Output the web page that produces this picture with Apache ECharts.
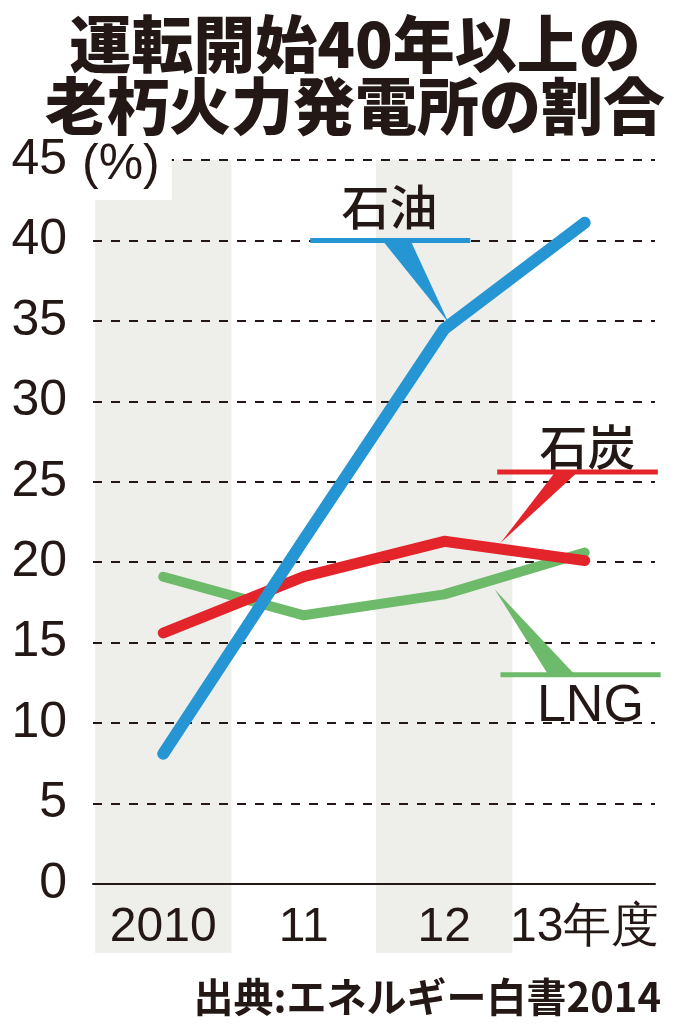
<!DOCTYPE html>
<html>
<head>
<meta charset="utf-8">
<style>
  html, body { margin: 0; padding: 0; background: #fff; }
  #main { width: 686px; height: 1024px; }
</style>
<script src="https://cdn.jsdelivr.net/npm/echarts@6/dist/echarts.min.js"></script>
</head>
<body>
<div id="main"></div>
<script>
// 年度
var categories = ['2010', '11', '12', '13年度'];
// 割合(%)
var oilData = [8.1, 21.4, 34.5, 41.1];
var coalData = [15.6, 19.1, 21.3, 20.1];
var lngData = [19.1, 16.7, 18.0, 20.6];
var yTicks = [0, 5, 10, 15, 20, 25, 30, 35, 40, 45];

var numFont = '"Liberation Sans Narrow", "Liberation Sans", Arial, sans-serif';
var jpFont = '"Noto Sans CJK JP", sans-serif';
var ink = '#231815';

var myChart = echarts.init(document.getElementById('main'));

var option = {
    backgroundColor: '#fff',
    animation: false,
    title: [
        {
            text: '運転開始40年以上の\n老朽火力発電所の割合',
            left: 350,
            top: 8,
            textAlign: 'center',
            textStyle: {
                fontFamily: jpFont,
                fontWeight: 900,
                fontSize: 62,
                lineHeight: 62,
                color: ink
            }
        },
        {
            text: '出典:エネルギー白書2014',
            right: 20,
            bottom: 2,
            textStyle: {
                fontFamily: jpFont,
                fontWeight: 'bold',
                fontSize: 40,
                color: ink
            }
        }
    ],
    grid: {
        left: 93,
        right: 31,
        top: 160,
        bottom: 140
    },
    xAxis: {
        type: 'category',
        data: categories,
        boundaryGap: true,
        axisLine: { lineStyle: { color: ink, width: 2 } },
        axisTick: { show: false },
        axisLabel: {
            interval: 0,
            margin: 20,
            fontFamily: numFont,
            fontSize: 48,
            color: ink
        },
        splitLine: { show: false }
    },
    yAxis: {
        type: 'value',
        min: yTicks[0],
        max: yTicks[yTicks.length - 1],
        interval: 5,
        axisLine: { show: false },
        axisTick: { show: false },
        axisLabel: {
            margin: 26,
            fontFamily: numFont,
            fontSize: 50,
            color: ink
        },
        splitLine: {
            lineStyle: { color: ink, width: 2, type: [9, 9] }
        }
    },
    series: [
        {
            name: 'LNG',
            type: 'line',
            data: lngData,
            symbol: 'none',
            z: 3,
            lineStyle: { color: '#6dbb6a', width: 10, cap: 'round', join: 'round' }
        },
        {
            name: '石炭',
            type: 'line',
            data: coalData,
            symbol: 'none',
            z: 4,
            lineStyle: { color: '#e3242b', width: 11, cap: 'round', join: 'round' }
        },
        {
            name: '石油',
            type: 'line',
            data: oilData,
            symbol: 'none',
            z: 5,
            lineStyle: { color: '#2595d3', width: 12, cap: 'round', join: 'round' }
        }
    ]
};

myChart.setOption(option);

// 背景の帯・凡例の引き出し線（データ座標から画素へ変換）
function px(xi, yv) {
    var a = myChart.convertToPixel({ xAxisIndex: 0 }, categories[0]);
    var b = myChart.convertToPixel({ xAxisIndex: 0 }, categories[1]);
    var y = myChart.convertToPixel({ yAxisIndex: 0 }, yv);
    return [a + (b - a) * xi, y];
}

var step = px(1, 0)[0] - px(0, 0)[0];
var y0 = px(0, 0)[1];
var yTop = px(0, 45)[1];

function band(xi) {
    var c = px(xi, 0)[0];
    return {
        type: 'rect',
        z: -10,
        shape: { x: c - step * 0.485, y: yTop, width: step * 0.97, height: y0 + 69 - yTop },
        style: { fill: '#eeeeea' }
    };
}

function callout(color, lineFrom, lineTo, yv, base1, base2, tip, labelPos, label) {
    var p1 = px(lineFrom, yv), p2 = px(lineTo, yv);
    var b1 = px(base1, yv), b2 = px(base2, yv), t = px(tip[0], tip[1]);
    var lp = px(labelPos[0], labelPos[1]);
    return [
        {
            type: 'line', z: 20,
            shape: { x1: p1[0], y1: p1[1], x2: p2[0], y2: p2[1] },
            style: { stroke: color, lineWidth: 5 }
        },
        {
            type: 'polygon', z: 20,
            shape: { points: [b1, b2, t] },
            style: { fill: color }
        },
        {
            type: 'text', z: 21,
            x: lp[0], y: lp[1],
            style: {
                text: label,
                fontFamily: label === 'LNG' ? numFont : jpFont,
                fontWeight: label === 'LNG' ? 'normal' : 500,
                fontSize: label === 'LNG' ? 52 : 48,
                fill: ink,
                align: 'center',
                verticalAlign: 'middle'
            }
        }
    ];
}

var graphics = [band(0), band(2)];
graphics = graphics.concat(
    callout('#2595d3', 1.046, 2.185, 40, 1.56, 1.76, [2.03, 34.9], [1.61, 42.1], '石油'),
    callout('#e3242b', 2.377, 3.52, 25.6, 2.79, 2.95, [2.40, 21.2], [3.02, 27.2], '石炭'),
    callout('#6dbb6a', 2.40, 3.54, 13.0, 2.74, 2.93, [2.36, 18.3], [3.04, 11.0], 'LNG')
);
graphics.push({
    type: 'text',
    z: 30,
    left: 78,
    top: 138,
    style: {
        text: '(%)',
        fontFamily: numFont,
        fontSize: 50,
        fill: ink,
        backgroundColor: '#fff',
        padding: [2, 12, 10, 4]
    }
});

myChart.setOption({ graphic: graphics });
</script>
</body>
</html>
